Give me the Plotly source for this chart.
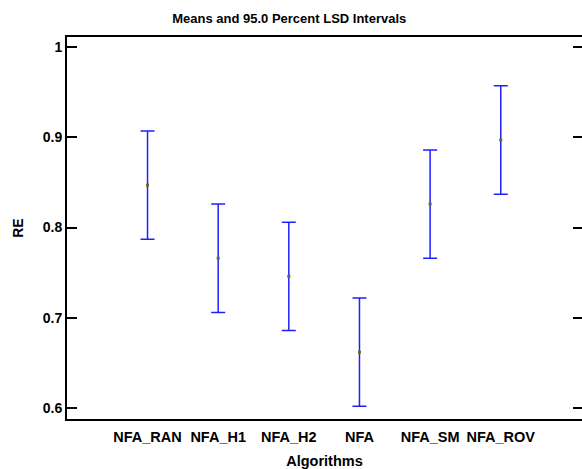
import plotly.graph_objects as go

categories = ["NFA_RAN", "NFA_H1", "NFA_H2", "NFA", "NFA_SM", "NFA_ROV"]
means = [0.847, 0.766, 0.746, 0.662, 0.826, 0.897]
lsd_half = [0.060, 0.060, 0.060, 0.060, 0.060, 0.060]
y_ticks = [0.6, 0.7, 0.8, 0.9, 1.0]
y_ticktext = ["0.6", "0.7", "0.8", "0.9", "1"]

font_family = "Liberation Sans, Arial, sans-serif"
yr = [0.588, 1.011]

fig = go.Figure()
fig.add_trace(go.Scatter(
    x=list(range(len(categories))), y=means, mode="markers",
    marker=dict(symbol="square", size=3, color="#6b6b10"),
    error_y=dict(type="data", array=lsd_half, color="#2020ff", thickness=1.5, width=7),
    showlegend=False, hoverinfo="skip",
))
fig.add_trace(go.Scatter(x=[0], y=[0.8], yaxis="y2", mode="markers",
                         marker=dict(opacity=0), showlegend=False, hoverinfo="skip"))

W, H = 582, 469
fig.update_layout(
    width=W, height=H,
    margin=dict(l=67, r=0, t=37, b=50),
    paper_bgcolor="white", plot_bgcolor="white",
    font=dict(family=font_family, size=14, color="black", weight="bold"),
    title=dict(text="Means and 95.0 Percent LSD Intervals", x=0.497, xanchor="center",
               y=1 - 18 / H, yanchor="middle",
               font=dict(size=13, family=font_family, color="black", weight="bold")),
    xaxis=dict(range=[-1.14, 6.15], tickvals=list(range(len(categories))), ticktext=categories,
               showline=True, linecolor="black", linewidth=2, mirror=True,
               ticks="", showgrid=False, zeroline=False,
               ticklabelstandoff=4,
               tickfont=dict(size=14.5, weight="bold"),
               title=dict(text="Algorithms", standoff=14, font=dict(size=14.5, weight="bold"))),
    yaxis=dict(range=yr, tickvals=y_ticks, ticktext=y_ticktext,
               showline=True, linecolor="black", linewidth=2, mirror=False,
               ticks="inside", ticklen=10, tickwidth=2, tickcolor="black",
               ticklabelstandoff=0,
               showgrid=False, zeroline=False,
               tickfont=dict(size=14, weight="bold"),
               title=dict(text="RE", standoff=16, font=dict(size=14, weight="bold"))),
    yaxis2=dict(range=yr, overlaying="y", side="right", tickvals=y_ticks,
                showticklabels=False, ticks="inside", ticklen=9, tickwidth=2,
                tickcolor="black", showline=False, showgrid=False, zeroline=False),
)

fig.write_html("out.html", config={"displayModeBar": False},
               post_script="document.body.style.margin='0';document.body.style.overflow='hidden';")
